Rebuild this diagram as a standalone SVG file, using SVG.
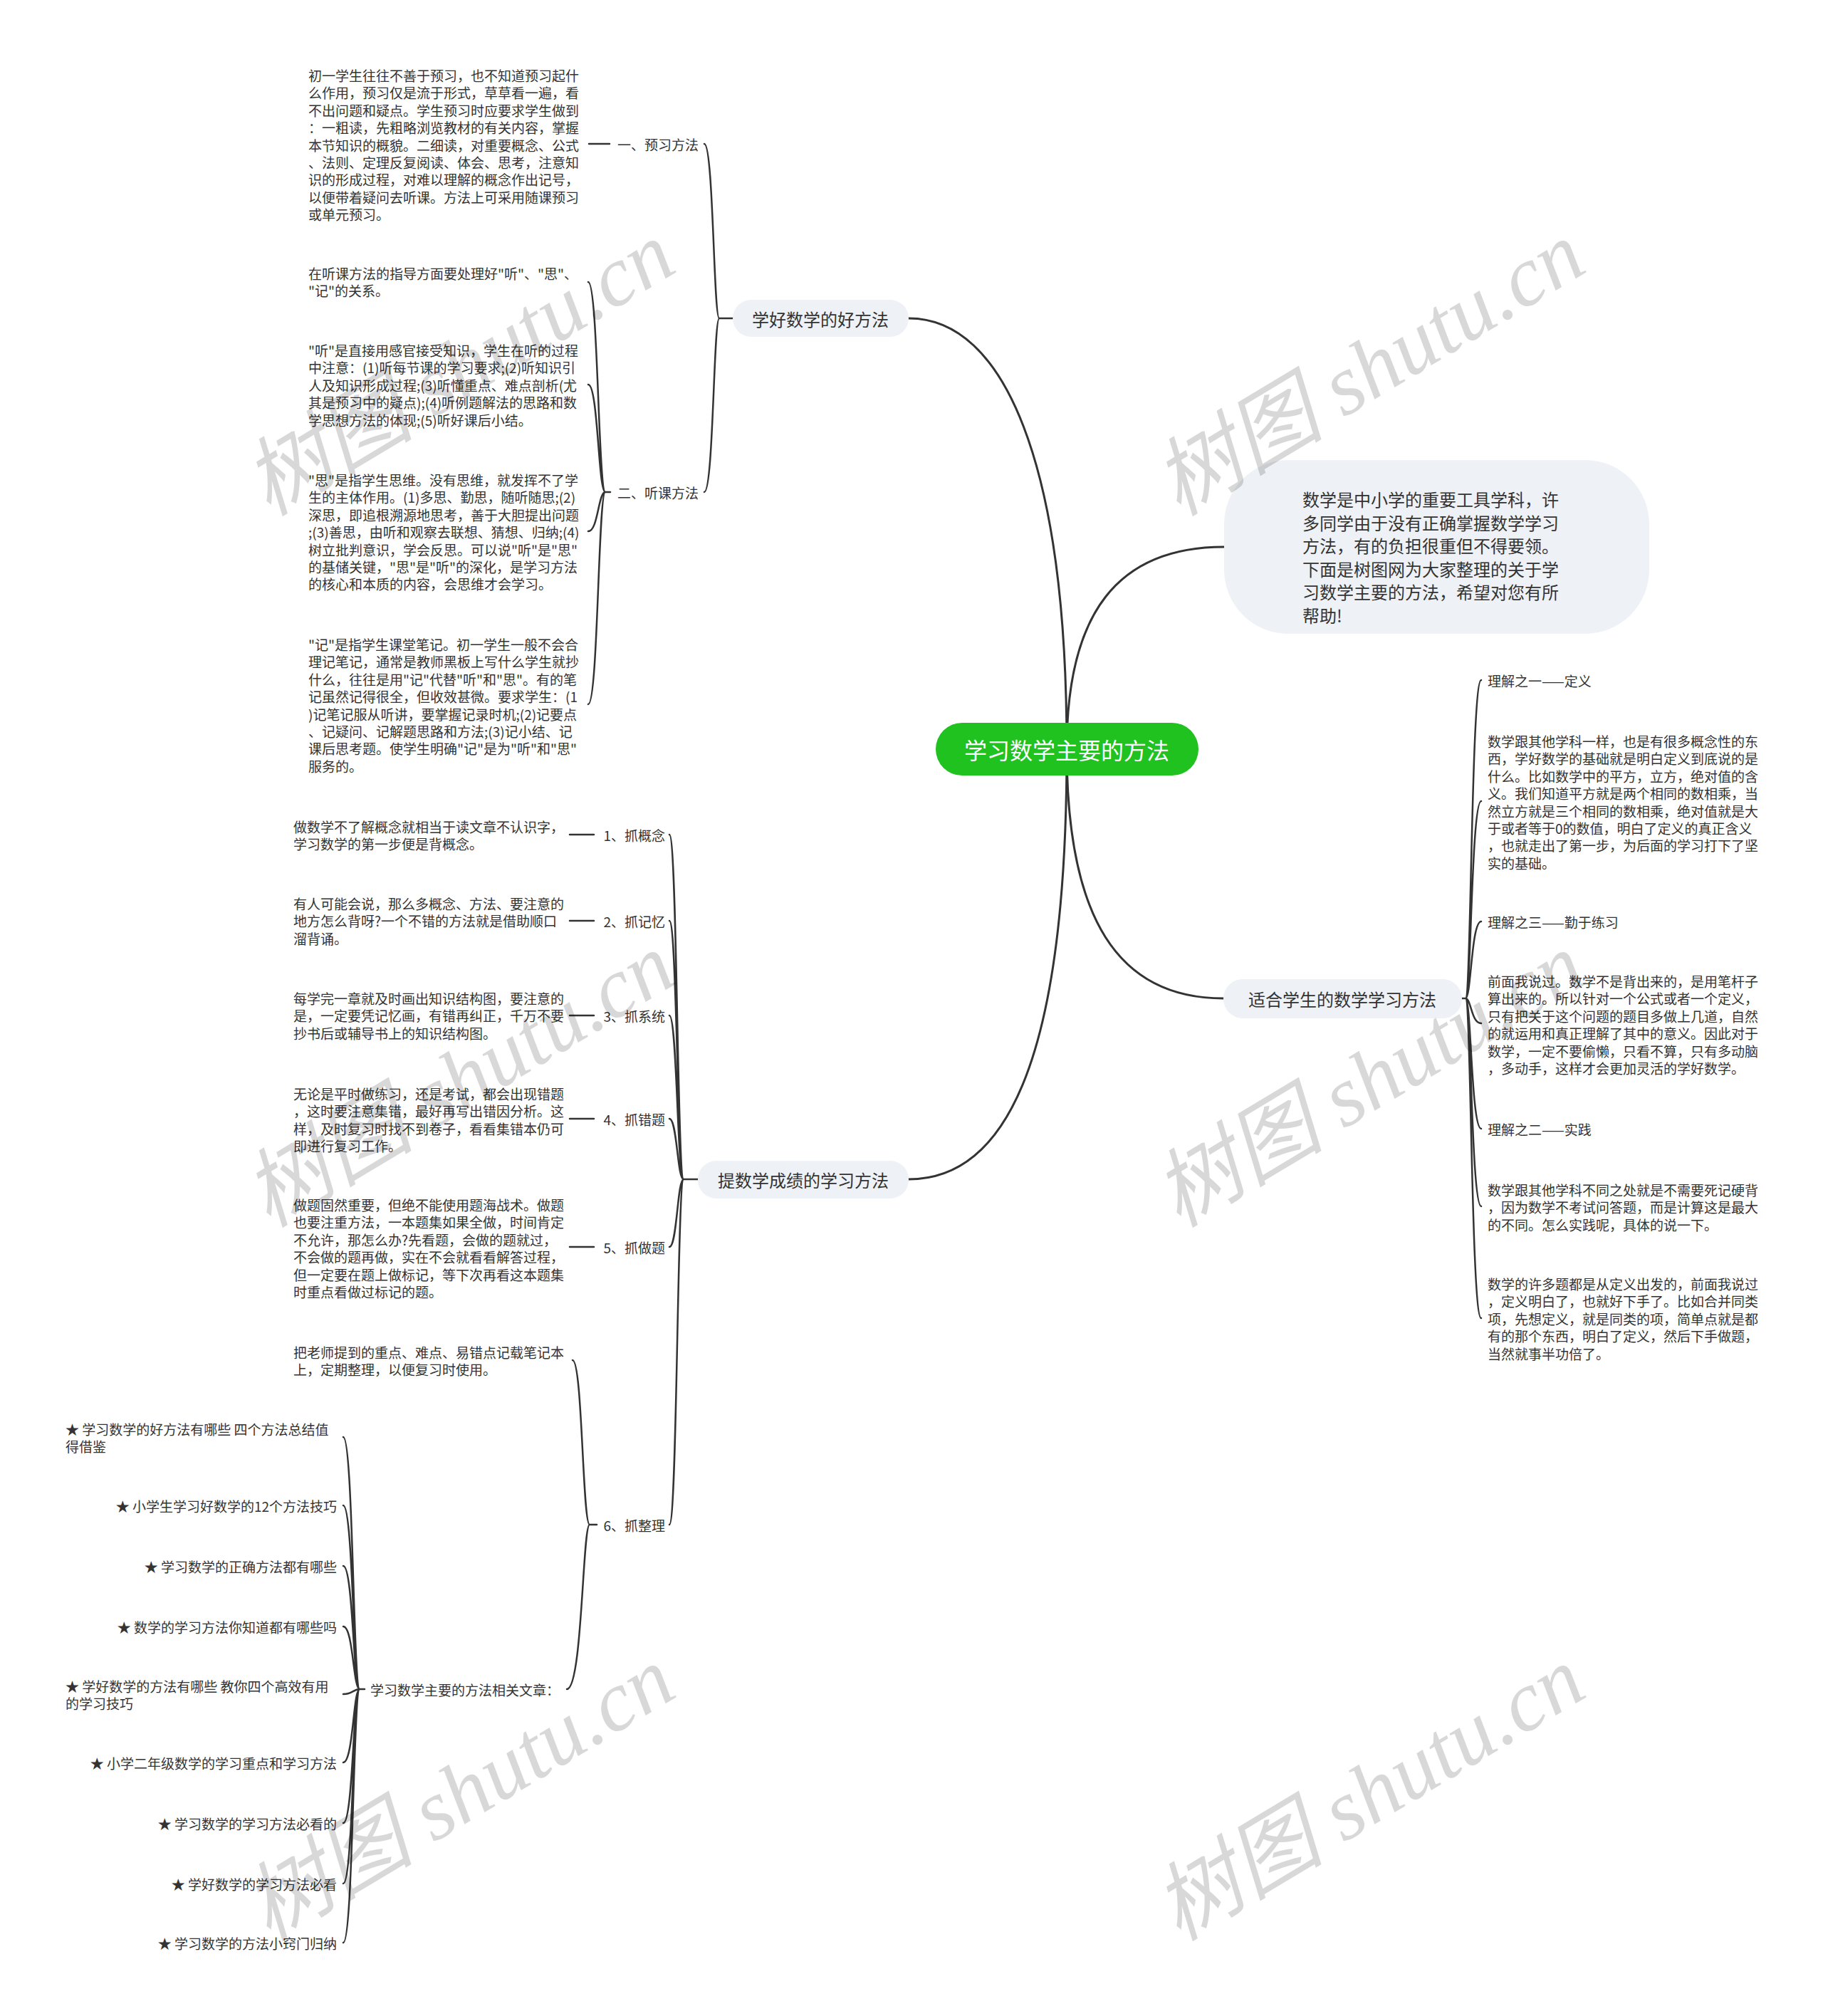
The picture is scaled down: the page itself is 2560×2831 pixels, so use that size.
<svg xmlns="http://www.w3.org/2000/svg" width="2560" height="2831" viewBox="0 0 2560 2831">
<style>
.t{font-family:"Noto Sans CJK SC","Noto Sans",sans-serif;font-size:19px;fill:#333;dominant-baseline:central}
.b{font-size:24px}
.c{font-size:32px;fill:#fff}
.e{text-anchor:end}
.m{text-anchor:middle}
.ln{fill:none;stroke:#333;stroke-width:2.5;stroke-linecap:round}
.mn{fill:none;stroke:#333;stroke-width:3;stroke-linecap:round}
.nd{fill:#eef1f5}
.wm{font-family:"Liberation Serif","Noto Sans CJK SC",serif;font-style:italic;font-size:120px;fill:#000;opacity:0.15;text-anchor:middle;dominant-baseline:central}
</style>
<rect width="2560" height="2831" fill="#fff"/>
<g id="connectors">
<path class="mn" d="M1498 1052 C1498 650 1410 447 1276 447"/>
<path class="mn" d="M1498 1052 C1498 860 1570 768 1719 768"/>
<path class="mn" d="M1498 1052 C1498 1290 1570 1402 1718 1402"/>
<path class="mn" d="M1498 1052 C1498 1470 1420 1656 1276 1656"/>
<path class="ln" d="M1029 447 H1010 M1010 447 C1002 447 1002 202 989 202 M1010 447 C1002 447 1002 691 989 691"/>
<path class="ln" d="M827 202 H856"/>
<path class="ln" d="M857 691 H850 M850 691 C840 691 840 396 826 396 M850 691 C840 691 840 540 826 540 M850 691 C840 691 840 746 826 746 M850 691 C840 691 840 989 826 989"/>
<path class="ln" d="M2053 1402 H2058 M2058 1402 C2066 1402 2066 955 2080 955 M2058 1402 C2066 1402 2066 1125 2080 1125 M2058 1402 C2066 1402 2066 1294 2080 1294 M2058 1402 C2066 1402 2066 1437 2080 1437 M2058 1402 C2066 1402 2066 1585 2080 1585 M2058 1402 C2066 1402 2066 1694 2080 1694 M2058 1402 C2066 1402 2066 1851 2080 1851"/>
<path class="ln" d="M980 1656 H960 M960 1656 C951 1656 951 1172 940 1172 M960 1656 C951 1656 951 1293 940 1293 M960 1656 C951 1656 951 1426 940 1426 M960 1656 C951 1656 951 1571 940 1571 M960 1656 C951 1656 951 1751 940 1751 M960 1656 C951 1656 951 2141 940 2141"/>
<path class="ln" d="M800 1172 H834 M800 1293 H834 M800 1426 H834 M800 1571 H834 M800 1751 H834"/>
<path class="ln" d="M838 2141 H828 M828 2141 C818 2141 818 1910 804 1910 M828 2141 C818 2141 818 2372 796 2372"/>
<path class="ln" d="M512 2372 H505 M505 2372 C496 2372 496 2018 482 2018 M505 2372 C496 2372 496 2114 482 2114 M505 2372 C496 2372 496 2199 482 2199 M505 2372 C496 2372 496 2284 482 2284 M505 2372 C496 2372 496 2379 482 2379 M505 2372 C496 2372 496 2475 482 2475 M505 2372 C496 2372 496 2560 482 2560 M505 2372 C496 2372 496 2645 482 2645 M505 2372 C496 2372 496 2728 482 2728"/>
</g>
<g id="central"><rect x="1314" y="1015" width="369" height="74" rx="37" fill="#1fc21f"/><text class="t c m" x="1498" y="1052">学习数学主要的方法</text></g>
<g id="intro"><rect class="nd" x="1719" y="646" width="597" height="244" rx="90"/>
<text class="t b"><tspan x="1829" y="700">数学是中小学的重要工具学科，许</tspan><tspan x="1829" y="732.5">多同学由于没有正确掌握数学学习</tspan><tspan x="1829" y="765">方法，有的负担很重但不得要领。</tspan><tspan x="1829" y="797.5">下面是树图网为大家整理的关于学</tspan><tspan x="1829" y="830">习数学主要的方法，希望对您有所</tspan><tspan x="1829" y="862.5">帮助!</tspan></text></g>
<g id="b1"><rect class="nd" x="1029" y="421" width="247" height="52" rx="26"/><text class="t b m" x="1152" y="447">学好数学的好方法</text></g>
<g id="b2"><rect class="nd" x="980" y="1630" width="296" height="53" rx="26"/><text class="t b m" x="1128" y="1656">提数学成绩的学习方法</text></g>
<g id="b3"><rect class="nd" x="1718" y="1375" width="335" height="55" rx="27"/><text class="t b m" x="1885" y="1402">适合学生的数学学习方法</text></g>
<g id="b1-1"><text class="t e" x="981" y="202">一、预习方法</text></g>
<g id="b1-1-t"><text class="t"><tspan x="433" y="105">初一学生往往不善于预习，也不知道预习起什</tspan><tspan x="433" y="129.4">么作用，预习仅是流于形式，草草看一遍，看</tspan><tspan x="433" y="153.8">不出问题和疑点。学生预习时应要求学生做到</tspan><tspan x="433" y="178.2">：一粗读，先粗略浏览教材的有关内容，掌握</tspan><tspan x="433" y="202.6">本节知识的概貌。二细读，对重要概念、公式</tspan><tspan x="433" y="227">、法则、定理反复阅读、体会、思考，注意知</tspan><tspan x="433" y="251.4">识的形成过程，对难以理解的概念作出记号，</tspan><tspan x="433" y="275.8">以便带着疑问去听课。方法上可采用随课预习</tspan><tspan x="433" y="300.2">或单元预习。</tspan></text></g>
<g id="b1-2"><text class="t e" x="981" y="691">二、听课方法</text></g>
<g id="b1-2-a"><text class="t"><tspan x="433" y="383">在听课方法的指导方面要处理好"听"、"思"、</tspan><tspan x="433" y="407.4">"记"的关系。</tspan></text></g>
<g id="b1-2-b"><text class="t"><tspan x="433" y="491">"听"是直接用感官接受知识，学生在听的过程</tspan><tspan x="433" y="515.4">中注意：(1)听每节课的学习要求;(2)听知识引</tspan><tspan x="433" y="539.8">人及知识形成过程;(3)听懂重点、难点剖析(尤</tspan><tspan x="433" y="564.2">其是预习中的疑点);(4)听例题解法的思路和数</tspan><tspan x="433" y="588.6">学思想方法的体现;(5)听好课后小结。</tspan></text></g>
<g id="b1-2-c"><text class="t"><tspan x="433" y="673">"思"是指学生思维。没有思维，就发挥不了学</tspan><tspan x="433" y="697.4">生的主体作用。(1)多思、勤思，随听随思;(2)</tspan><tspan x="433" y="721.8">深思，即追根溯源地思考，善于大胆提出问题</tspan><tspan x="433" y="746.2">;(3)善思，由听和观察去联想、猜想、归纳;(4)</tspan><tspan x="433" y="770.6">树立批判意识，学会反思。可以说"听"是"思"</tspan><tspan x="433" y="795">的基储关键，"思"是"听"的深化，是学习方法</tspan><tspan x="433" y="819.4">的核心和本质的内容，会思维才会学习。</tspan></text></g>
<g id="b1-2-d"><text class="t"><tspan x="433" y="904">"记"是指学生课堂笔记。初一学生一般不会合</tspan><tspan x="433" y="928.4">理记笔记，通常是教师黑板上写什么学生就抄</tspan><tspan x="433" y="952.8">什么，往往是用"记"代替"听"和"思"。有的笔</tspan><tspan x="433" y="977.2">记虽然记得很全，但收效甚微。要求学生：(1</tspan><tspan x="433" y="1001.6">)记笔记服从听讲，要掌握记录时机;(2)记要点</tspan><tspan x="433" y="1026">、记疑问、记解题思路和方法;(3)记小结、记</tspan><tspan x="433" y="1050.4">课后思考题。使学生明确"记"是为"听"和"思"</tspan><tspan x="433" y="1074.8">服务的。</tspan></text></g>
<g id="r1"><text class="t" x="2089" y="955">理解之一——定义</text></g>
<g id="r2"><text class="t"><tspan x="2089" y="1040">数学跟其他学科一样，也是有很多概念性的东</tspan><tspan x="2089" y="1064.4">西，学好数学的基础就是明白定义到底说的是</tspan><tspan x="2089" y="1088.8">什么。比如数学中的平方，立方，绝对值的含</tspan><tspan x="2089" y="1113.2">义。我们知道平方就是两个相同的数相乘，当</tspan><tspan x="2089" y="1137.6">然立方就是三个相同的数相乘，绝对值就是大</tspan><tspan x="2089" y="1162">于或者等于0的数值，明白了定义的真正含义</tspan><tspan x="2089" y="1186.4">，也就走出了第一步，为后面的学习打下了坚</tspan><tspan x="2089" y="1210.8">实的基础。</tspan></text></g>
<g id="r3"><text class="t" x="2089" y="1294">理解之三——勤于练习</text></g>
<g id="r4"><text class="t"><tspan x="2089" y="1377">前面我说过。数学不是背出来的，是用笔杆子</tspan><tspan x="2089" y="1401.4">算出来的。所以针对一个公式或者一个定义，</tspan><tspan x="2089" y="1425.8">只有把关于这个问题的题目多做上几道，自然</tspan><tspan x="2089" y="1450.2">的就运用和真正理解了其中的意义。因此对于</tspan><tspan x="2089" y="1474.6">数学，一定不要偷懒，只看不算，只有多动脑</tspan><tspan x="2089" y="1499">，多动手，这样才会更加灵活的学好数学。</tspan></text></g>
<g id="r5"><text class="t" x="2089" y="1585">理解之二——实践</text></g>
<g id="r6"><text class="t"><tspan x="2089" y="1670">数学跟其他学科不同之处就是不需要死记硬背</tspan><tspan x="2089" y="1694.4">，因为数学不考试问答题，而是计算这是最大</tspan><tspan x="2089" y="1718.8">的不同。怎么实践呢，具体的说一下。</tspan></text></g>
<g id="r7"><text class="t"><tspan x="2089" y="1802">数学的许多题都是从定义出发的，前面我说过</tspan><tspan x="2089" y="1826.4">，定义明白了，也就好下手了。比如合并同类</tspan><tspan x="2089" y="1850.8">项，先想定义，就是同类的项，简单点就是都</tspan><tspan x="2089" y="1875.2">有的那个东西，明白了定义，然后下手做题，</tspan><tspan x="2089" y="1899.6">当然就事半功倍了。</tspan></text></g>
<g id="l1"><text class="t e" x="934" y="1172">1、抓概念</text><text class="t"><tspan x="412" y="1160">做数学不了解概念就相当于读文章不认识字，</tspan><tspan x="412" y="1184.4">学习数学的第一步便是背概念。</tspan></text></g>
<g id="l2"><text class="t e" x="934" y="1293">2、抓记忆</text><text class="t"><tspan x="412" y="1268">有人可能会说，那么多概念、方法、要注意的</tspan><tspan x="412" y="1292.4">地方怎么背呀?一个不错的方法就是借助顺口</tspan><tspan x="412" y="1316.8">溜背诵。</tspan></text></g>
<g id="l3"><text class="t e" x="934" y="1426">3、抓系统</text><text class="t"><tspan x="412" y="1401">每学完一章就及时画出知识结构图，要注意的</tspan><tspan x="412" y="1425.4">是，一定要凭记忆画，有错再纠正，千万不要</tspan><tspan x="412" y="1449.8">抄书后或辅导书上的知识结构图。</tspan></text></g>
<g id="l4"><text class="t e" x="934" y="1571">4、抓错题</text><text class="t"><tspan x="412" y="1535">无论是平时做练习，还是考试，都会出现错题</tspan><tspan x="412" y="1559.4">，这时要注意集错，最好再写出错因分析。这</tspan><tspan x="412" y="1583.8">样，及时复习时找不到卷子，看看集错本仍可</tspan><tspan x="412" y="1608.2">即进行复习工作。</tspan></text></g>
<g id="l5"><text class="t e" x="934" y="1751">5、抓做题</text><text class="t"><tspan x="412" y="1691">做题固然重要，但绝不能使用题海战术。做题</tspan><tspan x="412" y="1715.4">也要注重方法，一本题集如果全做，时间肯定</tspan><tspan x="412" y="1739.8">不允许，那怎么办?先看题，会做的题就过，</tspan><tspan x="412" y="1764.2">不会做的题再做，实在不会就看看解答过程，</tspan><tspan x="412" y="1788.6">但一定要在题上做标记，等下次再看这本题集</tspan><tspan x="412" y="1813">时重点看做过标记的题。</tspan></text></g>
<g id="l6"><text class="t e" x="934" y="2141">6、抓整理</text></g>
<g id="l6-a"><text class="t"><tspan x="412" y="1898">把老师提到的重点、难点、易错点记载笔记本</tspan><tspan x="412" y="1922.4">上，定期整理，以便复习时使用。</tspan></text></g>
<g id="l6-b"><text class="t e" x="786" y="2372">学习数学主要的方法相关文章：</text></g>
<g id="articles">
<text class="t"><tspan x="92" y="2006">★ 学习数学的好方法有哪些 四个方法总结值</tspan><tspan x="92" y="2030.4">得借鉴</tspan></text>
<text class="t e" x="473" y="2114">★ 小学生学习好数学的12个方法技巧</text>
<text class="t e" x="473" y="2199">★ 学习数学的正确方法都有哪些</text>
<text class="t e" x="473" y="2284">★ 数学的学习方法你知道都有哪些吗</text>
<text class="t"><tspan x="92" y="2367">★ 学好数学的方法有哪些 教你四个高效有用</tspan><tspan x="92" y="2391.4">的学习技巧</tspan></text>
<text class="t e" x="473" y="2475">★ 小学二年级数学的学习重点和学习方法</text>
<text class="t e" x="473" y="2560">★ 学习数学的学习方法必看的</text>
<text class="t e" x="473" y="2645">★ 学好数学的学习方法必看</text>
<text class="t e" x="473" y="2728">★ 学习数学的方法小窍门归纳</text>
</g>
<g id="watermarks">
<text class="wm" transform="translate(645 518) rotate(-31)">树图 shutu.cn</text>
<text class="wm" transform="translate(1923 518) rotate(-31)">树图 shutu.cn</text>
<text class="wm" transform="translate(645 1517) rotate(-31)">树图 shutu.cn</text>
<text class="wm" transform="translate(1923 1517) rotate(-31)">树图 shutu.cn</text>
<text class="wm" transform="translate(645 2519) rotate(-31)">树图 shutu.cn</text>
<text class="wm" transform="translate(1923 2519) rotate(-31)">树图 shutu.cn</text>
</g>
</svg>
